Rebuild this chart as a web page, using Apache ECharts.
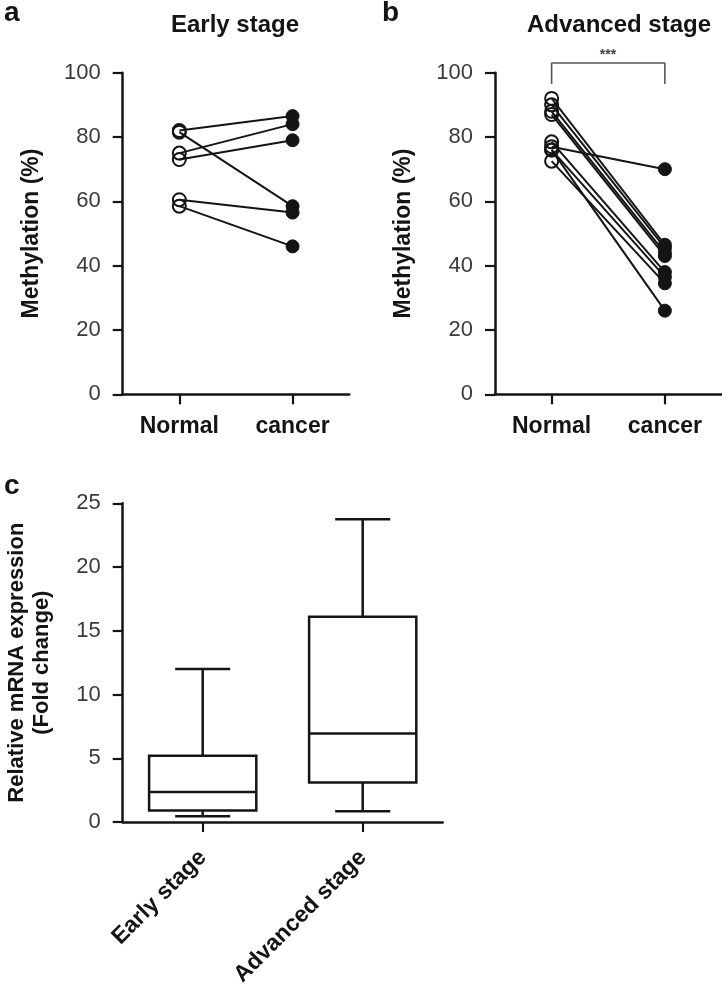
<!DOCTYPE html>
<html><head><meta charset="utf-8">
<script src="https://cdn.jsdelivr.net/npm/echarts@6/dist/echarts.min.js"></script>
<style>html,body{margin:0;padding:0;background:#fff}#c{width:722px;height:989px}</style>
</head><body><div id="c"></div>
<script>
// ---- data ----
const pairCategories = ['Normal', 'cancer'];
const earlyNormal = [82, 81.5, 75, 73, 60.5, 58.5];
const earlyCancer = [86.5, 58.5, 84, 79, 56.5, 46];
const advNormal = [92, 90, 88, 87, 78.5, 77, 76, 76, 72.5];
const advCancer = [46.5, 45.5, 44, 43, 38, 70, 36.5, 26, 34.5];
const methylTicks = { min: 0, max: 100, interval: 20 };
const boxCategories = ['Early stage', 'Advanced stage'];
const boxMin = [0.45, 0.85];
const boxQ1 = [0.9, 3.1];
const boxMedian = [2.35, 6.95];
const boxQ3 = [5.2, 16.1];
const boxMax = [12, 23.75];
const foldTicks = { min: 0, max: 25, interval: 5 };
const bracketY = [96.5, 103];
const sigText = '***';

// ---- styling ----
const FONT = 'Liberation Sans, Arial, Helvetica, sans-serif';
const INK = '#141414';
const axisLine = { show: true, lineStyle: { color: INK, width: 2.5 } };
const axisTick = { show: true, length: 10, lineStyle: { color: INK, width: 2.2 } };

function catAxis(gi, data, extra) {
  return Object.assign({
    gridIndex: gi, type: 'category', data: data, boundaryGap: true,
    axisLine: axisLine, axisTick: Object.assign({ alignWithLabel: true }, axisTick),
    axisLabel: { fontFamily: FONT, fontSize: 23, fontWeight: 'bold', color: INK, margin: 21 },
    splitLine: { show: false }
  }, extra || {});
}
function valAxis(gi, t, name, nameGap, nameSize) {
  return {
    gridIndex: gi, type: 'value', min: t.min, max: t.max, interval: t.interval,
    axisLine: axisLine, axisTick: axisTick,
    axisLabel: { fontFamily: FONT, fontSize: 22, color: '#3a3a3a', margin: 22 },
    splitLine: { show: false },
    name: name, nameLocation: 'middle', nameGap: nameGap,
    nameTextStyle: { fontFamily: FONT, fontSize: nameSize, fontWeight: 'bold', color: INK, lineHeight: nameSize + 3 }
  };
}

function pairSeries(normals, cancers, axisIdx) {
  return normals.map((n, i) => ({
    type: 'line', xAxisIndex: axisIdx, yAxisIndex: axisIdx,
    symbol: 'circle', symbolSize: 13, showSymbol: true, animation: false,
    lineStyle: { color: INK, width: 2 },
    data: [
      { value: n, itemStyle: { color: 'rgba(255,255,255,0)', borderColor: INK, borderWidth: 2 } },
      { value: cancers[i], itemStyle: { color: INK, borderColor: INK, borderWidth: 1 } }
    ]
  }));
}

function renderBox(params, api) {
  const c = api.value(0);
  const vals = [1, 2, 3, 4, 5].map(i => api.value(i));
  const band = api.size([1, 0])[0];
  const hw = band * 0.335;
  const cw = band * 0.172;
  const p = vals.map(v => api.coord([c, v]));
  const x = p[0][0];
  const st = { stroke: INK, lineWidth: 2.5, fill: null };
  return {
    type: 'group', children: [
      { type: 'line', shape: { x1: x, y1: p[0][1], x2: x, y2: p[1][1] }, style: st },
      { type: 'line', shape: { x1: x, y1: p[3][1], x2: x, y2: p[4][1] }, style: st },
      { type: 'line', shape: { x1: x - cw, y1: p[0][1], x2: x + cw, y2: p[0][1] }, style: st },
      { type: 'line', shape: { x1: x - cw, y1: p[4][1], x2: x + cw, y2: p[4][1] }, style: st },
      { type: 'rect', shape: { x: x - hw, y: p[3][1], width: 2 * hw, height: p[1][1] - p[3][1] }, style: { stroke: INK, lineWidth: 2.5, fill: '#fff' } },
      { type: 'line', shape: { x1: x - hw, y1: p[2][1], x2: x + hw, y2: p[2][1] }, style: st }
    ]
  };
}

const titleStyle = { fontFamily: FONT, fontSize: 24, fontWeight: 'bold', color: INK };
const letterStyle = { fontFamily: FONT, fontSize: 28, fontWeight: 'bold', color: INK };

const option = {
  animation: false,
  backgroundColor: '#fff',
  title: [
    { text: 'a', left: 4, top: -1, padding: 0, textStyle: letterStyle },
    { text: 'b', left: 382, top: -1, padding: 0, textStyle: letterStyle },
    { text: 'c', left: 4, top: 472, padding: 0, textStyle: letterStyle },
    { text: 'Early stage', left: 235, top: 13, padding: 0, textAlign: 'center', textStyle: titleStyle },
    { text: 'Advanced stage', left: 619, top: 13, padding: 0, textAlign: 'center', textStyle: titleStyle },
    { text: sigText, left: 608, top: 48, padding: 0, textAlign: 'center', textStyle: { fontFamily: FONT, fontSize: 14, fontWeight: 'bold', color: '#444' } }
  ],
  grid: [
    { left: 122.7, top: 72.7, width: 226.5, height: 321.6 },
    { left: 495, top: 72.7, width: 226.5, height: 321.6 },
    { left: 122.7, top: 503.3, width: 320, height: 320 }
  ],
  xAxis: [
    catAxis(0, pairCategories),
    catAxis(1, pairCategories),
    catAxis(2, boxCategories, { axisLabel: { fontFamily: FONT, fontSize: 23, fontWeight: 'bold', color: INK, margin: 32, rotate: 45, interval: 0 } })
  ],
  yAxis: [
    valAxis(0, methylTicks, 'Methylation (%)', 78, 23),
    valAxis(1, methylTicks, 'Methylation (%)', 78, 23),
    valAxis(2, foldTicks, 'Relative mRNA expression\n(Fold change)', 68, 22)
  ],
  series: [].concat(
    pairSeries(earlyNormal, earlyCancer, 0),
    pairSeries(advNormal, advCancer, 1),
    [{
      type: 'line', xAxisIndex: 1, yAxisIndex: 1, clip: false, symbol: 'none',
      lineStyle: { color: '#555', width: 1.6 }, z: 1,
      data: [[0, bracketY[0]], [0, bracketY[1]], [1, bracketY[1]], [1, bracketY[0]]]
    }],
    [{
      type: 'custom', xAxisIndex: 2, yAxisIndex: 2, renderItem: renderBox,
      encode: { x: 0, y: [1, 2, 3, 4, 5] },
      data: boxCategories.map((c, i) => [i, boxMin[i], boxQ1[i], boxMedian[i], boxQ3[i], boxMax[i]])
    }]
  )
};
const chart = echarts.init(document.getElementById('c'), null, { renderer: 'canvas' });
chart.setOption(option);
</script></body></html>
